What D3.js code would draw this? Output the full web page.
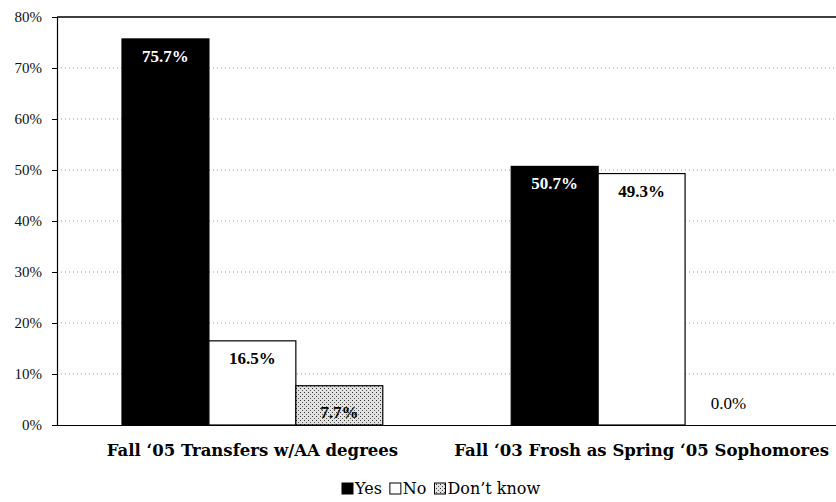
<!DOCTYPE html>
<html><head><meta charset="utf-8">
<script src="https://cdn.jsdelivr.net/npm/d3@7"></script>
<style>body{margin:0;background:#fff}</style>
</head><body>
<svg id="c" width="836" height="502"></svg>
<script>
const categories = ["Fall \u201805 Transfers w/AA degrees", "Fall \u201803 Frosh as Spring \u201805 Sophomores"];
const seriesNames = ["Yes", "No", "Don\u2019t know"];
const yesValues = [75.7, 50.7];
const noValues = [16.5, 49.3];
const dkValues = [7.7, 0.0];
const yTicks = [0, 10, 20, 30, 40, 50, 60, 70, 80];

(function(){
const seriesValues = [yesValues, noValues, dkValues];
const fills = ["#000", "#fff", "url(#dots)"];
const labelColors = ["#fff", "#000", "#000"];
const font = "'Liberation Serif', 'Times New Roman', serif";
const wideFont = "'DejaVu Serif', serif";

const svg = d3.select("#c");
const defs = svg.append("defs");
const pat = defs.append("pattern").attr("id","dots").attr("width",4).attr("height",4).attr("patternUnits","userSpaceOnUse");
pat.append("rect").attr("width",4).attr("height",4).attr("fill","#e2e2e2");
pat.append("rect").attr("x",0).attr("y",0).attr("width",1).attr("height",1).attr("fill","#333");
pat.append("rect").attr("x",2).attr("y",2).attr("width",1).attr("height",1).attr("fill","#555");

const mLeft = 57, mRight = 837, mTop = 17, mBottom = 425;
const y = d3.scaleLinear().domain([0, 80]).range([mBottom, mTop]);
const x0 = d3.scaleBand().domain(categories).range([mLeft, mRight]).paddingInner(0.33).paddingOuter(0.167);
const x1 = d3.scaleBand().domain(seriesNames).range([0, x0.bandwidth()]);

svg.append("g").selectAll("line").data(yTicks.filter(t => t > 0 && t < 80)).join("line")
  .attr("x1", mLeft).attr("x2", mRight).attr("y1", d => y(d)).attr("y2", d => y(d))
  .attr("stroke", "#999").attr("stroke-width", 1).attr("stroke-dasharray", "1,3");

svg.append("line").attr("x1", mLeft).attr("x2", mRight).attr("y1", y(80)).attr("y2", y(80)).attr("stroke", "#000").attr("stroke-width", 1.5);

const data = [];
categories.forEach((c, i) => seriesNames.forEach((s, j) => data.push({c, s, j, v: seriesValues[j][i]})));
svg.append("g").selectAll("rect").data(data).join("rect")
  .attr("x", d => x0(d.c) + x1(d.s)).attr("width", x1.bandwidth())
  .attr("y", d => y(d.v)).attr("height", d => y(0) - y(d.v))
  .attr("fill", d => fills[d.j]).attr("stroke", "#000").attr("stroke-width", 1.2);

function labelY(d) {
  const t = y(d.v), h = y(0) - t;
  if (d.v === 0) return y(0) - 22;
  if (h < 50) return t + h * 0.67;
  return t + 17;
}
svg.append("g").selectAll("text").data(data).join("text")
  .attr("x", d => x0(d.c) + x1(d.s) + x1.bandwidth() / 2)
  .attr("y", labelY)
  .attr("dy", "0.35em").attr("text-anchor", "middle")
  .attr("font-family", font).attr("font-size", 17)
  .attr("font-weight", d => d.v === 0 ? "normal" : "bold")
  .attr("fill", d => labelColors[d.j])
  .text(d => d.v.toFixed(1) + "%");

const yAxis = d3.axisLeft(y).tickValues(yTicks).tickFormat(d => d + "%").tickSize(5).tickPadding(10);
const ga = svg.append("g").attr("transform", `translate(${mLeft},0)`).call(yAxis);
ga.select(".domain").attr("stroke", "#000").attr("stroke-width", 1.2);
ga.selectAll(".tick line").attr("stroke", "#000");
ga.selectAll("text").attr("font-family", font).attr("font-size", 15).attr("fill", "#111");

const xAxis = d3.axisBottom(x0).tickSize(0).tickPadding(19);
const gx = svg.append("g").attr("transform", `translate(0,${mBottom})`).call(xAxis);
gx.select(".domain").attr("stroke", "#000").attr("stroke-width", 1.2);
gx.selectAll("text").attr("font-family", wideFont).attr("font-size", 16.5).attr("font-weight", "bold").attr("fill", "#000");

const lg = svg.append("g").attr("font-family", wideFont).attr("font-size", 16);
let lx = 342;
const ly = 494;
seriesNames.forEach((s, j) => {
  lg.append("rect").attr("x", lx).attr("y", ly - 11).attr("width", 11).attr("height", 11)
    .attr("fill", fills[j]).attr("stroke", "#000").attr("stroke-width", 1);
  const t = lg.append("text").attr("x", lx + 13).attr("y", ly).attr("fill", "#000").text(s);
  lx += 13 + t.node().getComputedTextLength() + 8;
});
})();
</script>
</body></html>
